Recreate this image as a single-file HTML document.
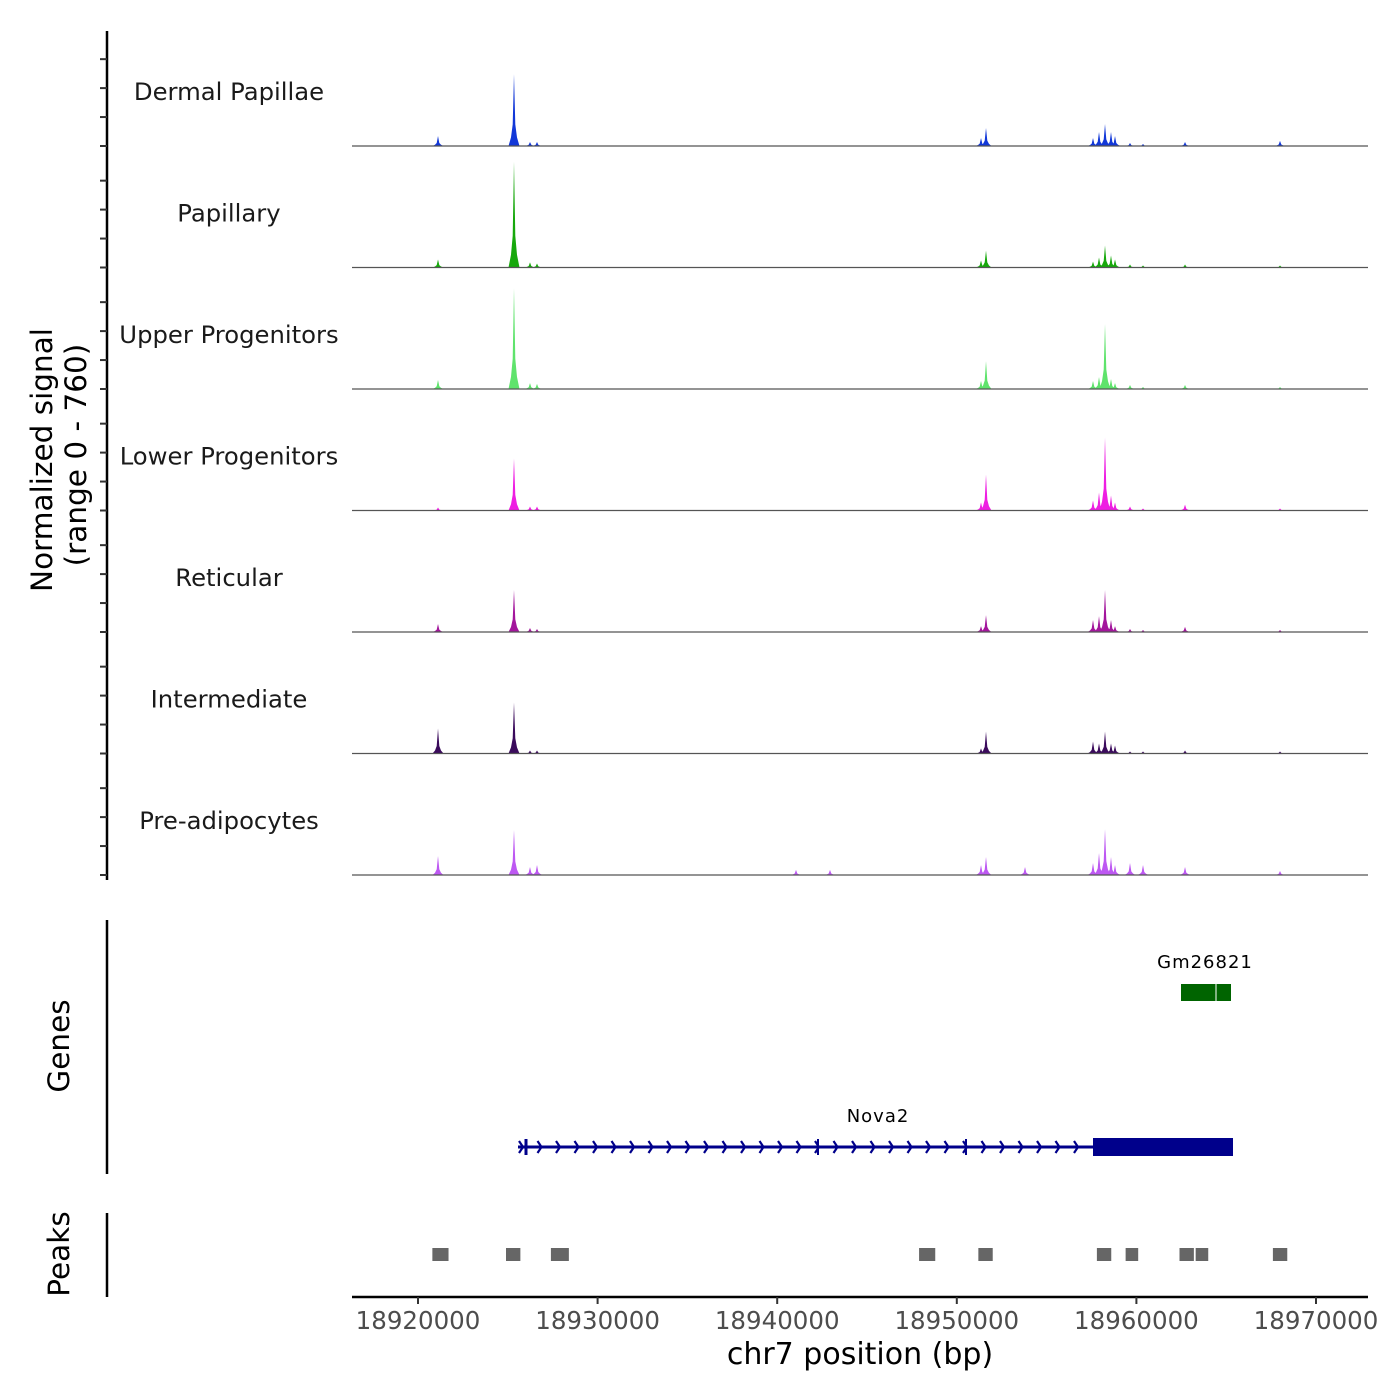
<!DOCTYPE html>
<html><head><meta charset="utf-8">
<style>
html,body{margin:0;padding:0;background:#fff;}
svg{display:block;font-family:"DejaVu Sans","Liberation Sans",sans-serif;}
</style></head>
<body>
<svg id="chart" width="1400" height="1400" viewBox="0 0 1400 1400" xmlns="http://www.w3.org/2000/svg">
<rect width="1400" height="1400" fill="#fff"/>
<g id="tracks"></g>
<g id="labels"></g>
<g id="leftaxis"></g>
<text transform="translate(52,460) rotate(-90)" text-anchor="middle" font-size="29.5" fill="#000">Normalized signal</text>
<text transform="translate(86,455) rotate(-90)" text-anchor="middle" font-size="29.5" fill="#000">(range 0 - 760)</text>
<line x1="107" y1="920" x2="107" y2="1174" stroke="#000" stroke-width="2.5"/>
<text transform="translate(69,1046) rotate(-90)" text-anchor="middle" font-size="29.5" fill="#000">Genes</text>
<line x1="107" y1="1213" x2="107" y2="1297" stroke="#000" stroke-width="2.5"/>
<text transform="translate(69,1254) rotate(-90)" text-anchor="middle" font-size="29.5" fill="#000">Peaks</text>
<g id="genes"></g>
<g id="peaks"></g>
<g id="xaxis"></g>
<text x="860" y="1364" text-anchor="middle" font-size="30" fill="#000">chr7 position (bp)</text>
</svg>
<script>
const NS="http://www.w3.org/2000/svg";
// ---- data ----
const cellTypes=["Dermal Papillae","Papillary","Upper Progenitors","Lower Progenitors","Reticular","Intermediate","Pre-adipocytes"];
const trackColors=["#1238d8","#17a80c","#5fe36c","#ee1ee2","#a3169c","#3b0b5c","#bd58f2"];
const peakPositions=[18921114,18925345,18926236,18926626,18941047,18942940,18951348,18951626,18953798,18957584,18957918,18958252,18958586,18958809,18959644,18960368,18962707,18967996];
const sigDermal=[69,497,28,28,0,0,55,124,0,55,97,152,97,69,21,14,28,35];
const sigPapillary=[55,731,35,28,0,0,48,117,0,41,69,152,83,55,21,14,21,14];
const sigUpper=[62,697,41,35,0,0,55,193,0,55,83,449,69,41,28,14,28,14];
const sigLower=[21,359,28,28,0,0,55,248,0,69,124,504,104,55,28,14,41,14];
const sigReticular=[55,290,28,21,0,0,41,117,0,83,110,290,83,41,21,14,35,14];
const sigIntermediate=[173,352,21,21,0,0,35,152,0,83,69,152,69,55,14,14,21,14];
const sigPreadipo=[131,311,55,69,35,35,69,124,55,83,152,317,124,69,83,69,55,28];
const signals=[sigDermal,sigPapillary,sigUpper,sigLower,sigReticular,sigIntermediate,sigPreadipo];
const peakStarts=[18920800,18924900,18927400,18947900,18951200,18957800,18959400,18962400,18963300,18967600];
const peakEnds=[18921700,18925700,18928400,18948800,18952000,18958600,18960100,18963200,18964000,18968400];
const xTicks=[18920000,18930000,18940000,18950000,18960000,18970000];
const signalMax=760;
// ---- scales ----
const X0=352,X1=1368;
function xs(bp){return 418+(bp-18920000)/10000*179.6;}
const trackStep=121.5, firstBase=146, trackH=110;
function base(i){return firstBase+i*trackStep;}
function ys(v,i){return base(i)-v/signalMax*trackH;}
// ---- tracks ----
const gT=document.getElementById('tracks');
signals.forEach((arr,i)=>{
  const g=document.createElementNS(NS,'g');
  
  
  const b=base(i);
  arr.forEach((v,k)=>{
    if(v<=0)return;
    const x=xs(peakPositions[k]), y=ys(v,i), h=b-y;
    const p=document.createElementNS(NS,'polygon');
    p.setAttribute('points',`${x-5.5},${b} ${x-3},${b-h*0.12} ${x-1.3},${b-h*0.3} ${x},${y} ${x+1.3},${b-h*0.3} ${x+3},${b-h*0.12} ${x+5.5},${b}`);
    p.setAttribute('fill',trackColors[i]);
    
    
    g.appendChild(p);
  });
  const l=document.createElementNS(NS,'line');
  l.setAttribute('x1',X0);l.setAttribute('x2',X1);l.setAttribute('y1',b);l.setAttribute('y2',b);
  l.setAttribute('stroke','#555');l.setAttribute('stroke-width','1.2');
  
  
  g.appendChild(l);
  gT.appendChild(g);
  const t=document.createElementNS(NS,'text');
  t.setAttribute('x',229);t.setAttribute('y',b-54+8);
  t.setAttribute('text-anchor','middle');t.setAttribute('font-size','24.3');t.setAttribute('fill','#1a1a1a');
  t.textContent=cellTypes[i];
  
  
  document.getElementById('labels').appendChild(t);
});
// left axis with ticks
const gL=document.getElementById('leftaxis');
let ax=document.createElementNS(NS,'line');
ax.setAttribute('x1',107);ax.setAttribute('x2',107);ax.setAttribute('y1',31);ax.setAttribute('y2',880);
ax.setAttribute('stroke','#000');ax.setAttribute('stroke-width','2.5');


gL.appendChild(ax);
[0,200,400,600].forEach(v=>{for(let i=0;i<7;i++){
  const y=ys(v,i);
  const t=document.createElementNS(NS,'line');
  t.setAttribute('x1',100);t.setAttribute('x2',107);t.setAttribute('y1',y);t.setAttribute('y2',y);
  t.setAttribute('stroke','#333');t.setAttribute('stroke-width','2');
  
  
  gL.appendChild(t);
}});
// genes
const gG=document.getElementById('genes');
gG.innerHTML=`
<text x="1205" y="968" text-anchor="middle" font-size="18" fill="#000" letter-spacing="1">Gm26821</text>
<rect x="1181" y="984" width="50" height="17" fill="#006400"/>
<line x1="1216" y1="984" x2="1216" y2="1001" stroke="#fff" stroke-width="1"/>
<text x="878" y="1122" text-anchor="middle" font-size="18" fill="#000" letter-spacing="1">Nova2</text>
<line x1="518" y1="1147" x2="1233" y2="1147" stroke="#00008b" stroke-width="3"/>
<rect x="1093" y="1138" width="140" height="18" fill="#00008b"/>
<line x1="526" y1="1139" x2="526" y2="1155" stroke="#00008b" stroke-width="3"/>
<line x1="818" y1="1139" x2="818" y2="1155" stroke="#00008b" stroke-width="2"/>
<line x1="966" y1="1139" x2="966" y2="1155" stroke="#00008b" stroke-width="2"/>`;
for(let x=522;x<1090;x+=18.5){
  const c=document.createElementNS(NS,'polyline');
  c.setAttribute('points',`${x-3},${1141} ${x+1},${1147} ${x-3},${1153}`);
  c.setAttribute('fill','none');c.setAttribute('stroke','#00008b');c.setAttribute('stroke-width','2.2');
  
  
  gG.appendChild(c);
}
// peaks
const gP=document.getElementById('peaks');
peakStarts.forEach((s,k)=>{
  const r=document.createElementNS(NS,'rect');
  r.setAttribute('x',xs(s));r.setAttribute('width',xs(peakEnds[k])-xs(s));
  r.setAttribute('y',1248);r.setAttribute('height',13);r.setAttribute('fill','#666');
  
  
  gP.appendChild(r);
});
// x axis
const gX=document.getElementById('xaxis');
let xl=document.createElementNS(NS,'line');
xl.setAttribute('x1',X0);xl.setAttribute('x2',X1);xl.setAttribute('y1',1297);xl.setAttribute('y2',1297);
xl.setAttribute('stroke','#000');xl.setAttribute('stroke-width','2.5');


gX.appendChild(xl);
xTicks.forEach(v=>{
  const x=xs(v);
  const t=document.createElementNS(NS,'line');
  t.setAttribute('x1',x);t.setAttribute('x2',x);t.setAttribute('y1',1297);t.setAttribute('y2',1304);
  t.setAttribute('stroke','#333');t.setAttribute('stroke-width','2');
  
  
  gX.appendChild(t);
  const l=document.createElementNS(NS,'text');
  l.setAttribute('x',x);l.setAttribute('y',1329);l.setAttribute('text-anchor','middle');
  l.setAttribute('font-size','24.5');l.setAttribute('fill','#4d4d4d');
  l.textContent=String(v);
  
  
  gX.appendChild(l);
});
</script>
</body></html>
